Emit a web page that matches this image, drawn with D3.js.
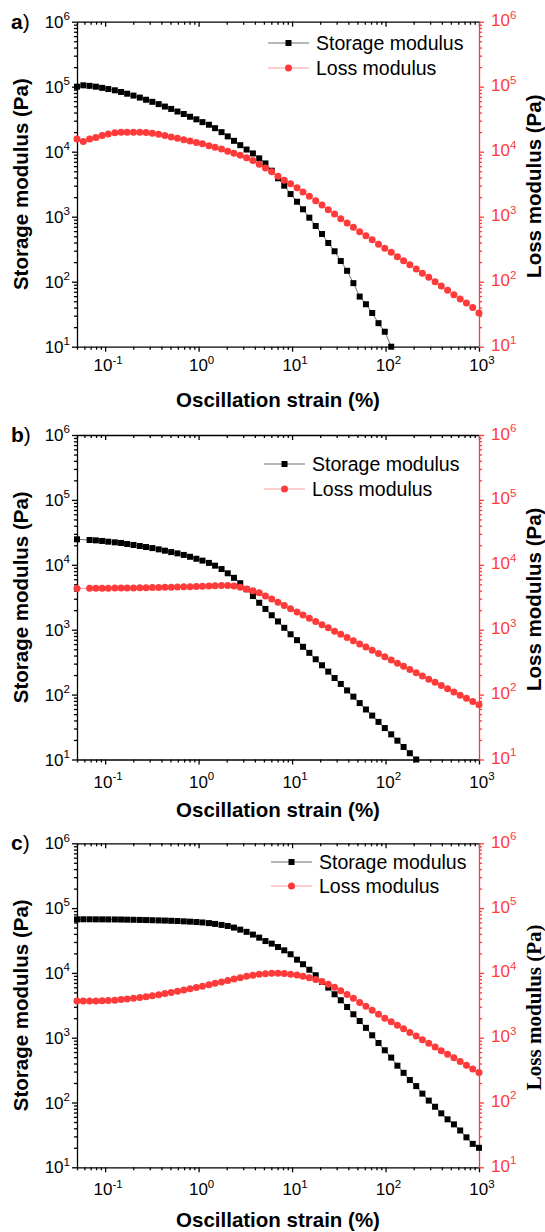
<!DOCTYPE html>
<html><head><meta charset="utf-8">
<script src="https://cdn.jsdelivr.net/npm/d3@7"></script>
<style>body{margin:0;background:#fff}svg{display:block}</style>
</head><body>
<svg id="chart" width="545" height="1232"></svg>
<script>
// ---------- data ----------
const strain = [0.05, 0.0584, 0.0682, 0.0796, 0.0929, 0.108, 0.127, 0.148, 0.172, 0.201,
  0.235, 0.274, 0.32, 0.374, 0.436, 0.509, 0.594, 0.694, 0.81, 0.946,
  1.10, 1.29, 1.50, 1.76, 2.05, 2.39, 2.79, 3.26, 3.81, 4.45,
  5.19, 6.06, 7.07, 8.25, 9.64, 11.3, 13.1, 15.3, 17.9, 20.9,
  24.4, 28.5, 33.2, 38.8, 45.3, 52.9, 61.7, 72.0, 84.1, 98.2,
  115, 134, 156, 182, 213, 248, 290, 339, 395, 461,
  539, 629, 734, 857, 1000];

const storageA = [1.0e5, 1.05e5, 1.03e5, 1.0e5, 9.6e4, 9.2e4, 8.8e4, 8.3e4, 7.8e4, 7.3e4,
  6.8e4, 6.3e4, 5.85e4, 5.4e4, 4.95e4, 4.55e4, 4.15e4, 3.8e4, 3.45e4, 3.15e4,
  2.85e4, 2.6e4, 2.3e4, 2.0e4, 1.72e4, 1.47e4, 1.26e4, 1.08e4, 9.4e3, 7.9e3,
  6.6e3, 5.1e3, 3.9e3, 3.0e3, 2.23e3, 1.7e3, 1.3e3, 966, 720, 542,
  394, 294, 208, 147, 95, 59, 45, 33, 23, 17, 10];
const lossA = [1.57e4, 1.43e4, 1.57e4, 1.66e4, 1.78e4, 1.87e4, 1.95e4, 1.99e4, 2.0e4, 2.0e4,
  2.0e4, 1.98e4, 1.93e4, 1.85e4, 1.77e4, 1.69e4, 1.61e4, 1.53e4, 1.46e4, 1.39e4,
  1.32e4, 1.24e4, 1.17e4, 1.1e4, 1.02e4, 9.5e3, 8.8e3, 8.1e3, 7.3e3, 6.4e3,
  5.6e3, 4.9e3, 4.2e3, 3.65e3, 3.2e3, 2.79e3, 2.4e3, 2.06e3, 1.76e3, 1.51e3,
  1.28e3, 1.1e3, 932, 800, 687, 588, 510, 443, 376, 326,
  283, 243, 210, 183, 157, 135, 117, 100, 86, 74,
  63, 54, 47, 40, 33];

const storageB = [2.47e4, null, 2.41e4, 2.38e4, 2.33e4, 2.27e4, 2.22e4, 2.17e4, 2.09e4, 2.02e4,
  1.95e4, 1.88e4, 1.81e4, 1.73e4, 1.65e4, 1.57e4, 1.5e4, 1.42e4, 1.33e4, 1.24e4,
  1.16e4, 1.07e4, 9.7e3, 8.6e3, 7.4e3, 6.3e3, 5.2e3, 4.2e3, 3.3e3, 2.6e3,
  2.09e3, 1.67e3, 1.34e3, 1.07e3, 850, 690, 545, 440, 350, 283,
  226, 180, 146, 116, 93, 74, 59, 47.5, 38, 30.5,
  24.4, 19.5, 15.6, 12.5, 10];
const lossB = [4.3e3, null, 4.35e3, 4.35e3, 4.36e3, 4.37e3, 4.38e3, 4.39e3, 4.4e3, 4.41e3,
  4.42e3, 4.44e3, 4.46e3, 4.48e3, 4.5e3, 4.52e3, 4.54e3, 4.57e3, 4.6e3, 4.63e3,
  4.66e3, 4.7e3, 4.74e3, 4.78e3, 4.8e3, 4.7e3, 4.5e3, 4.25e3, 3.98e3, 3.7e3,
  3.32e3, 2.96e3, 2.64e3, 2.36e3, 2.1e3, 1.88e3, 1.68e3, 1.5e3, 1.34e3, 1.19e3,
  1.07e3, 950, 850, 760, 676, 604, 540, 481, 430, 384,
  342, 305, 273, 244, 217, 194, 173, 155, 138, 123,
  110, 98, 88, 78, 70];

const storageC = [6.7e4, 6.72e4, 6.72e4, 6.71e4, 6.7e4, 6.69e4, 6.68e4, 6.66e4, 6.63e4, 6.6e4,
  6.57e4, 6.54e4, 6.5e4, 6.46e4, 6.42e4, 6.37e4, 6.32e4, 6.25e4, 6.18e4, 6.1e4,
  6.0e4, 5.87e4, 5.7e4, 5.5e4, 5.3e4, 5.0e4, 4.65e4, 4.3e4, 3.9e4, 3.5e4,
  3.1e4, 2.83e4, 2.51e4, 2.23e4, 1.94e4, 1.6e4, 1.36e4, 1.12e4, 9.2e3, 7.25e3,
  5.93e3, 4.68e3, 3.78e3, 2.98e3, 2.3e3, 1.81e3, 1.42e3, 1.09e3, 828, 640,
  493, 370, 287, 222, 179, 137, 107, 86, 68, 55,
  46, 37, 29, 23, 20];
const lossC = [3.7e3, 3.68e3, 3.68e3, 3.7e3, 3.72e3, 3.75e3, 3.8e3, 3.87e3, 3.95e3, 4.05e3,
  4.17e3, 4.3e3, 4.45e3, 4.62e3, 4.8e3, 5.0e3, 5.22e3, 5.45e3, 5.7e3, 5.95e3,
  6.25e3, 6.55e3, 6.9e3, 7.25e3, 7.65e3, 8.05e3, 8.45e3, 8.85e3, 9.2e3, 9.5e3,
  9.7e3, 9.85e3, 9.85e3, 9.75e3, 9.55e3, 9.25e3, 8.85e3, 8.4e3, 7.9e3, 7.35e3,
  6.7e3, 6.0e3, 5.3e3, 4.65e3, 4.05e3, 3.5e3, 3.05e3, 2.65e3, 2.3e3, 2.0e3,
  1.76e3, 1.55e3, 1.37e3, 1.2e3, 1.06e3, 930, 820, 720, 630, 555,
  490, 430, 375, 330, 290];

const seriesNames = ["Storage modulus", "Loss modulus"];
const panelLabels = ["a", "b", "c"];
const xTickExponents = ["-1", "0", "1", "2", "3"];
const yTickExponents = ["1", "2", "3", "4", "5", "6"];
const xTitle = "Oscillation strain (%)";
const yLeftTitle = "Storage modulus (Pa)";
const yRightTitle = "Loss modulus (Pa)";

// ---------- layout ----------
const svg = d3.select("#chart");
const X0 = 77, X1 = 479;
const RED = "#ff3a3a", RED_LIGHT = "#ff9c9c", GREY = "#707070";
const SANS = "'Liberation Sans', Arial, sans-serif";
const SERIF = "'Liberation Serif', 'Times New Roman', serif";

const panels = [
  {top: 21.7, bottom: 346.7, storage: storageA, loss: lossA, legX: 268, legY: [43, 68], lblDy: 24.5, titleY: 407, serif: false},
  {top: 435, bottom: 759.5, storage: storageB, loss: lossB, legX: 264, legY: [464, 489], lblDy: 28, titleY: 817, serif: false},
  {top: 843.3, bottom: 1167.3, storage: storageC, loss: lossC, legX: 271, legY: [862, 886], lblDy: 28, titleY: 1227, serif: true}
];

function supLabel(sel, base, exp, size) {
  sel.append("tspan").text(base);
  sel.append("tspan").attr("dy", -size * 0.45).attr("font-size", size * 0.68).text(exp);
}

panels.forEach((p, pi) => {
  const x = d3.scaleLog().domain([0.05, 1000]).range([X0, X1]);
  const y = d3.scaleLog().domain([10, 1e6]).range([p.bottom, p.top]);
  const g = svg.append("g");

  const xMajor = xTickExponents.map(e => Math.pow(10, +e));
  const xMinor = [];
  for (let e = -2; e < 3; e++) for (let m = 2; m < 10; m++) {
    const v = m * Math.pow(10, e);
    if (v >= 0.05 && v < 1000) xMinor.push(v);
  }
  const yMajor = yTickExponents.map(e => Math.pow(10, +e));
  const yMinor = [];
  for (let e = 1; e < 6; e++) for (let m = 2; m < 10; m++) yMinor.push(m * Math.pow(10, e));

  function styleAxis(a, color) {
    a.selectAll("path,line").attr("stroke", color).attr("stroke-width", 1.3);
  }
  // bottom
  const gb = g.append("g").attr("transform", `translate(0,${p.bottom})`)
    .call(d3.axisBottom(x).tickValues(xMajor).tickSize(5).tickSizeOuter(0).tickFormat(""));
  styleAxis(gb, "#000");
  const gbm = g.append("g").attr("transform", `translate(0,${p.bottom})`)
    .call(d3.axisBottom(x).tickValues(xMinor).tickSize(3).tickFormat(""));
  gbm.select(".domain").remove(); styleAxis(gbm, "#000");
  // top
  const gt = g.append("g").attr("transform", `translate(0,${p.top})`)
    .call(d3.axisTop(x).tickValues(xMajor).tickSize(-5).tickSizeOuter(0).tickFormat(""));
  styleAxis(gt, "#000");
  const gtm = g.append("g").attr("transform", `translate(0,${p.top})`)
    .call(d3.axisTop(x).tickValues(xMinor).tickSize(-3).tickFormat(""));
  gtm.select(".domain").remove(); styleAxis(gtm, "#000");
  // left
  const gl = g.append("g").attr("transform", `translate(${X0},0)`)
    .call(d3.axisLeft(y).tickValues(yMajor).tickSize(5).tickSizeOuter(0).tickFormat(""));
  styleAxis(gl, "#000");
  const glm = g.append("g").attr("transform", `translate(${X0},0)`)
    .call(d3.axisLeft(y).tickValues(yMinor).tickSize(3).tickFormat(""));
  glm.select(".domain").remove(); styleAxis(glm, "#000");
  // right (red)
  const gr = g.append("g").attr("transform", `translate(${X1},0)`)
    .call(d3.axisRight(y).tickValues(yMajor).tickSize(5).tickSizeOuter(0).tickFormat(""));
  styleAxis(gr, RED);
  const grm = g.append("g").attr("transform", `translate(${X1},0)`)
    .call(d3.axisRight(y).tickValues(yMinor).tickSize(3).tickFormat(""));
  grm.select(".domain").remove(); styleAxis(grm, RED);

  // tick labels
  const fs = 17;
  xTickExponents.forEach(e => {
    const t = g.append("text").attr("x", x(Math.pow(10, +e)) + 3).attr("y", p.bottom + p.lblDy)
      .attr("text-anchor", "middle").attr("font-family", SANS).attr("font-size", fs).attr("fill", "#000");
    supLabel(t, "10", e, fs);
  });
  yTickExponents.forEach(e => {
    const t = g.append("text").attr("x", X0 - 7).attr("y", y(Math.pow(10, +e)) + 6)
      .attr("text-anchor", "end").attr("font-family", SANS).attr("font-size", fs).attr("fill", "#000");
    supLabel(t, "10", e, fs);
    const r = g.append("text").attr("x", X1 + 12).attr("y", y(Math.pow(10, +e)) + 4.5)
      .attr("text-anchor", "start").attr("font-family", SANS).attr("font-size", fs).attr("fill", RED);
    supLabel(r, "10", e, fs);
  });

  // titles
  g.append("text").attr("x", 278).attr("y", p.titleY).attr("text-anchor", "middle")
    .attr("font-family", SANS).attr("font-weight", "bold").attr("font-size", 20.5).text(xTitle);
  const mid = (p.top + p.bottom) / 2;
  g.append("text").attr("transform", `translate(28,${mid}) rotate(-90)`).attr("text-anchor", "middle")
    .attr("font-family", SANS).attr("font-weight", "bold").attr("font-size", 20.5).text(yLeftTitle);
  g.append("text").attr("transform", `translate(541,${mid + 2}) rotate(-90)`).attr("text-anchor", "middle")
    .attr("font-family", p.serif ? SERIF : SANS).attr("font-weight", "bold")
    .attr("font-size", p.serif ? 21 : 20.5).attr("fill", "#000").text(yRightTitle);

  // panel label
  const pl = g.append("text").attr("x", 11).attr("y", p.top + 7)
    .attr("font-family", SANS).attr("font-size", 21).attr("fill", "#000");
  pl.append("tspan").attr("font-weight", "bold").text(panelLabels[pi]);
  pl.append("tspan").text(")");

  // data
  const sPts = p.storage.map((v, i) => [strain[i], v]).filter(d => d[1] != null);
  const lPts = p.loss.map((v, i) => [strain[i], v]).filter(d => d[1] != null);
  const line = d3.line().x(d => x(d[0])).y(d => y(d[1]));
  g.append("path").datum(sPts).attr("d", line).attr("fill", "none").attr("stroke", GREY).attr("stroke-width", 1);
  g.append("path").datum(lPts).attr("d", line).attr("fill", "none").attr("stroke", RED_LIGHT).attr("stroke-width", 1);
  const sq = 6;
  g.selectAll(".sq").data(sPts).enter().append("rect")
    .attr("x", d => x(d[0]) - sq / 2).attr("y", d => y(d[1]) - sq / 2)
    .attr("width", sq).attr("height", sq).attr("fill", "#000");
  g.selectAll(".ci").data(lPts).enter().append("circle")
    .attr("cx", d => x(d[0])).attr("cy", d => y(d[1])).attr("r", 3.5).attr("fill", RED);

  // legend
  const lx = p.legX;
  g.append("line").attr("x1", lx).attr("x2", lx + 41).attr("y1", p.legY[0]).attr("y2", p.legY[0]).attr("stroke", GREY).attr("stroke-width", 1);
  g.append("rect").attr("x", lx + 20.5 - sq / 2).attr("y", p.legY[0] - sq / 2).attr("width", sq).attr("height", sq).attr("fill", "#000");
  g.append("text").attr("x", lx + 48).attr("y", p.legY[0] + 7).attr("font-family", SANS).attr("font-size", 19.5).text(seriesNames[0]);
  g.append("line").attr("x1", lx).attr("x2", lx + 41).attr("y1", p.legY[1]).attr("y2", p.legY[1]).attr("stroke", RED_LIGHT).attr("stroke-width", 1);
  g.append("circle").attr("cx", lx + 20.5).attr("cy", p.legY[1]).attr("r", 3.5).attr("fill", RED);
  g.append("text").attr("x", lx + 48).attr("y", p.legY[1] + 7).attr("font-family", SANS).attr("font-size", 19.5).text(seriesNames[1]);
});
</script>
</body></html>
